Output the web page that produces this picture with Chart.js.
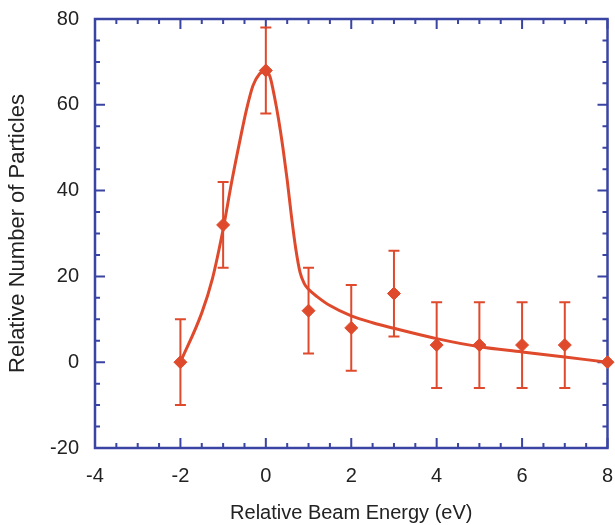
<!DOCTYPE html>
<html lang="en">
<head>
<meta charset="UTF-8">
<title>Relative Number of Particles</title>
<script src="https://cdn.jsdelivr.net/npm/chart.js@4/dist/chart.umd.min.js"></script>
<style>
  html, body { margin: 0; padding: 0; background: #fff; }
  #wrap { position: relative; width: 615px; height: 525px; }
</style>
</head>
<body>
<div id="wrap"><canvas id="chart"></canvas></div>
<script>
// measured points
const energy = [-2, -1, 0, 1, 2, 3, 4, 5, 6, 7, 8]
const particles = [0, 32, 68, 12, 8, 16, 4, 4, 4, 4, 0]
const errors = [10, 10, 10, 10, 10, 10, 10, 10, 10, 10, 0]

// fitted curve
const fitX = [-2, -1.5, -1.25, -1, -0.8, -0.6, -0.45, -0.3, -0.15, 0, 0.1, 0.2, 0.3, 0.4, 0.5, 0.6, 0.7, 0.8, 0.9, 1.0, 1.2, 1.5, 2, 2.5, 3, 4, 5, 6, 7, 8]
const fitY = [0, 11.5, 19.5, 31, 42, 52, 59, 64.5, 67.2, 68, 66.5, 62, 56.5, 50, 42.5, 34, 26.5, 21, 18.3, 17, 15.3, 13.2, 10.8, 9.2, 7.9, 5.5, 3.6, 2.4, 1.2, 0]

const xTicks = [-4, -2, 0, 2, 4, 6, 8]
const yTicks = [-20, 0, 20, 40, 60, 80]

const red = '#df4a2c'
const blue = '#3a44a2'
const family = 'Liberation Sans, Arial, Helvetica, sans-serif'

const frame = {
  id: 'frame',
  beforeDatasetsDraw(chart) {
    const { ctx, chartArea: a, scales: { x, y } } = chart
    ctx.save()
    ctx.strokeStyle = blue
    ctx.lineWidth = 2
    // minor every 0.5 on x, every 5 on y; long ticks at labels
    for (let v = -4; v <= 8.001; v += 0.5) {
      const px = x.getPixelForValue(v)
      const len = xTicks.includes(v) ? 10 : 5
      ctx.beginPath()
      ctx.moveTo(px, a.bottom); ctx.lineTo(px, a.bottom - len)
      ctx.moveTo(px, a.top); ctx.lineTo(px, a.top + len)
      ctx.stroke()
    }
    for (let v = -20; v <= 80.001; v += 5) {
      const py = y.getPixelForValue(v)
      const len = yTicks.includes(v) ? 10 : 5
      ctx.beginPath()
      ctx.moveTo(a.left, py); ctx.lineTo(a.left + len, py)
      ctx.moveTo(a.right, py); ctx.lineTo(a.right - len, py)
      ctx.stroke()
    }
    ctx.lineWidth = 2.5
    ctx.strokeRect(a.left, a.top, a.right - a.left, a.bottom - a.top)

    // error bars
    ctx.strokeStyle = red
    ctx.lineWidth = 2
    energy.forEach((e, i) => {
      if (!errors[i]) return
      const px = x.getPixelForValue(e)
      const top = y.getPixelForValue(particles[i] + errors[i])
      const bot = y.getPixelForValue(particles[i] - errors[i])
      ctx.beginPath()
      ctx.moveTo(px, top); ctx.lineTo(px, bot)
      ctx.moveTo(px - 5.5, top); ctx.lineTo(px + 5.5, top)
      ctx.moveTo(px - 5.5, bot); ctx.lineTo(px + 5.5, bot)
      ctx.stroke()
    })
    ctx.restore()
  }
}

function noPad(s) {
  s.paddingLeft = 0; s.paddingRight = 0; s.paddingTop = 0; s.paddingBottom = 0
}

new Chart(document.getElementById('chart'), {
  type: 'scatter',
  data: {
    datasets: [
      {
        type: 'line',
        data: fitX.map((v, i) => ({ x: v, y: fitY[i] })),
        borderColor: red,
        borderWidth: 3,
        pointRadius: 0,
        cubicInterpolationMode: 'monotone',
        fill: false
      },
      {
        data: energy.map((v, i) => ({ x: v, y: particles[i] })),
        pointStyle: 'rectRot',
        pointRadius: 6.5,
        backgroundColor: red,
        borderColor: red,
        clip: false
      }
    ]
  },
  options: {
    responsive: true,
    maintainAspectRatio: false,
    animation: false,
    layout: { padding: { top: 19, right: 3, left: 0, bottom: 0 } },
    plugins: { legend: { display: false }, tooltip: { enabled: false } },
    scales: {
      x: {
        type: 'linear',
        min: -4, max: 8,
        afterFit(s) { s.height = 77; noPad(s) },
        afterBuildTicks(s) { s.ticks = xTicks.map(v => ({ value: v })) },
        grid: { display: false, drawTicks: false },
        border: { display: false },
        ticks: { color: '#222', font: { family, size: 20 }, padding: 16, maxRotation: 0 },
        title: { display: true, text: 'Relative Beam Energy (eV)', color: '#222', font: { family, size: 20 }, padding: { top: 0, bottom: 0 } }
      },
      y: {
        type: 'linear',
        min: -20, max: 80,
        afterFit(s) { s.width = 95; noPad(s) },
        afterBuildTicks(s) { s.ticks = yTicks.map(v => ({ value: v })) },
        grid: { display: false, drawTicks: false },
        border: { display: false },
        ticks: { color: '#222', font: { family, size: 20 }, padding: 16 },
        title: { display: true, text: 'Relative Number of Particles', color: '#222', font: { family, size: 22 }, padding: { top: 5, bottom: 0 } }
      }
    }
  },
  plugins: [frame]
})
</script>
</body>
</html>
